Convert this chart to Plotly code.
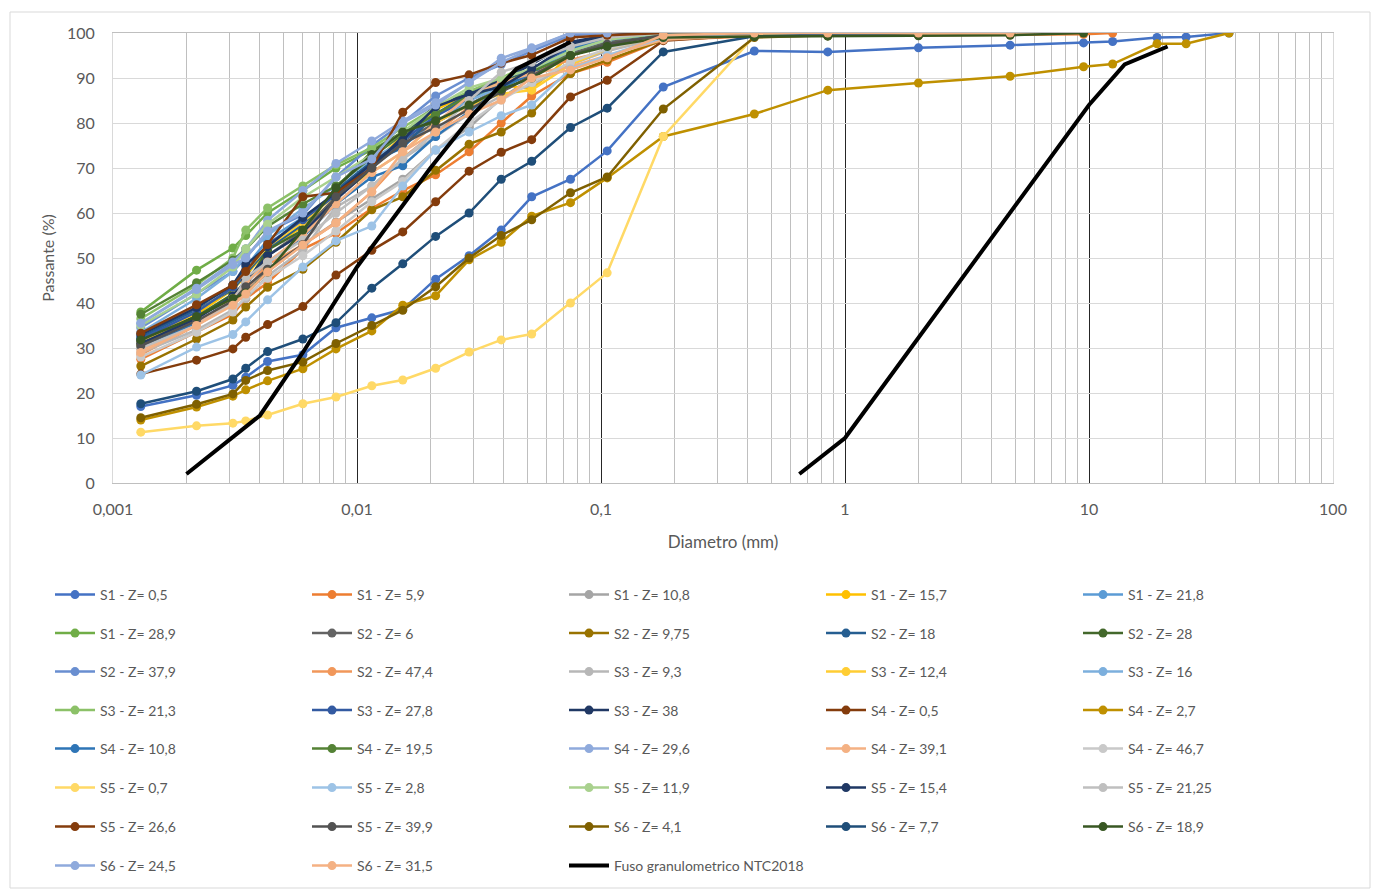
import plotly.graph_objects as go

# Particle diameters (mm): hydrometer readings then sieves
SIZES = [0.0013, 0.0022, 0.0031, 0.0035, 0.0043, 0.006, 0.0082, 0.0115, 0.0154, 0.021,
         0.0288, 0.039, 0.052, 0.075, 0.106, 0.18, 0.425, 0.85, 2.0, 4.75,
         9.5, 12.5, 19.0, 25.0, 37.5]

S1_Z0_5 = [17.0, 19.5, 21.7, 23.5, 27.0, 28.5, 34.5, 36.7, 38.6, 45.3, 50.5, 56.2, 63.6, 67.5, 73.8, 88.0, 96.0, 95.8, 96.7, 97.3, 97.8, 98.1, 99.0, 99.1, 100]
S1_Z5_9 = [27.5, 33.5, 37.5, 41.0, 44.5, 52.0, 55.5, 61.0, 65.0, 68.5, 73.6, 80.0, 86.0, 91.0, 93.5, 98.5, 99.3, 99.4, 99.5, 99.6, 99.7, 100]
S1_Z10_8 = [31.0, 36.0, 40.0, 43.0, 47.0, 53.0, 58.0, 63.0, 67.5, 74.0, 79.0, 85.5, 90.0, 95.0, 97.5, 99.5, 100]
S1_Z15_7 = [30.5, 37.5, 43.0, 46.0, 52.0, 57.0, 63.0, 71.0, 77.0, 83.0, 86.5, 88.5, 87.5, 95.0, 97.5, 99.5, 100]
S1_Z21_8 = [32.0, 39.0, 44.0, 48.0, 54.0, 59.0, 64.0, 70.5, 75.0, 80.0, 85.0, 88.5, 91.0, 96.0, 98.5, 99.5, 100]
S1_Z28_9 = [38.0, 47.3, 52.2, 55.0, 60.0, 65.0, 70.0, 74.0, 78.0, 82.0, 85.5, 88.5, 91.0, 96.0, 98.5, 99.6, 100]
S2_Z6 = [31.5, 37.0, 41.0, 44.0, 50.5, 56.0, 63.6, 70.0, 76.0, 80.0, 84.0, 88.0, 91.0, 95.5, 98.0, 99.5, 100]
S2_Z9_75 = [26.0, 32.0, 36.2, 39.1, 43.5, 47.5, 53.5, 60.7, 63.6, 69.5, 75.3, 78.0, 82.2, 91.0, 94.0, 98.5, 100]
S2_Z18 = [32.5, 38.5, 43.0, 46.5, 52.0, 57.5, 65.0, 71.5, 74.5, 82.0, 86.4, 88.5, 92.0, 97.0, 99.0, 99.7, 100]
S2_Z28 = [31.8, 37.0, 42.0, 44.0, 51.8, 56.2, 65.6, 73.6, 78.0, 80.2, 84.0, 87.0, 90.5, 95.1, 97.5, 99.0, 99.3, 99.4, 99.5, 100]
S2_Z37_9 = [34.5, 42.0, 47.0, 50.0, 55.8, 59.6, 68.0, 75.0, 80.0, 86.0, 90.0, 93.0, 96.0, 99.5, 100]
S2_Z47_4 = [28.5, 35.1, 40.0, 43.0, 48.5, 52.9, 57.8, 64.7, 72.2, 78.0, 83.5, 88.0, 91.5, 94.0, 96.0, 100]
S3_Z9_3 = [29.0, 34.0, 38.5, 41.0, 46.0, 51.8, 61.3, 66.0, 72.0, 77.0, 82.0, 86.0, 88.5, 93.0, 96.0, 99.0, 100]
S3_Z12_4 = [31.0, 38.0, 43.5, 47.0, 52.5, 58.0, 64.0, 69.0, 73.5, 80.0, 84.0, 86.5, 87.3, 93.0, 96.5, 99.5, 100]
S3_Z16 = [33.5, 41.0, 47.0, 50.5, 55.0, 61.0, 66.0, 72.0, 76.0, 82.0, 85.0, 88.0, 91.5, 96.0, 98.5, 100]
S3_Z21_3 = [36.5, 44.0, 50.0, 56.2, 61.1, 66.0, 70.7, 74.5, 79.0, 83.5, 87.0, 90.0, 93.3, 97.5, 99.0, 100]
S3_Z27_8 = [32.0, 38.0, 43.5, 47.0, 53.0, 58.5, 64.0, 71.0, 76.0, 81.5, 85.5, 89.0, 92.0, 97.0, 99.0, 100]
S3_Z38 = [31.0, 36.5, 41.5, 45.0, 50.5, 55.5, 63.0, 70.0, 77.0, 84.0, 86.4, 89.5, 93.0, 98.0, 99.5, 100]
S4_Z0_5 = [24.2, 27.3, 29.8, 32.4, 35.2, 39.2, 46.2, 51.7, 55.8, 62.5, 69.3, 73.5, 76.3, 85.8, 89.5, 98.3, 99.6, 100]
S4_Z2_7 = [14.0, 16.9, 19.3, 20.7, 22.7, 25.4, 29.8, 33.8, 39.5, 41.6, 49.6, 53.5, 59.3, 62.3, 67.8, 77.0, 82.0, 87.3, 88.9, 90.4, 92.5, 93.1, 97.6, 97.6, 100]
S4_Z10_8 = [30.0, 35.5, 41.0, 44.5, 49.0, 54.7, 62.0, 68.0, 70.5, 77.0, 82.5, 87.8, 91.0, 96.5, 98.5, 100]
S4_Z19_5 = [37.5, 44.5, 49.5, 52.0, 57.0, 62.0, 66.0, 72.4, 77.5, 82.0, 86.0, 89.0, 91.5, 95.0, 97.5, 99.5, 100]
S4_Z29_6 = [35.5, 43.3, 49.1, 52.0, 58.4, 65.0, 71.0, 76.0, 80.5, 84.5, 89.0, 94.4, 96.7, 100]
S4_Z39_1 = [29.6, 35.1, 41.0, 44.5, 49.1, 55.0, 62.0, 69.0, 73.6, 80.0, 86.0, 89.0, 91.0, 92.5, 95.0, 98.5, 99.5, 99.7, 99.8, 100]
S4_Z46_7 = [28.0, 33.5, 38.0, 41.5, 45.5, 50.5, 56.0, 62.5, 67.0, 74.0, 80.0, 85.1, 89.0, 93.5, 96.5, 99.5, 100]
S5_Z0_7 = [11.3, 12.7, 13.3, 13.8, 15.1, 17.6, 19.1, 21.6, 22.9, 25.5, 29.1, 31.8, 33.1, 40.0, 46.7, 77.0, 99.3, 100]
S5_Z2_8 = [24.0, 30.2, 33.0, 35.8, 40.7, 48.0, 53.8, 57.1, 66.0, 74.0, 78.0, 81.6, 84.0, 92.0, 95.0, 99.0, 100]
S5_Z11_9 = [35.0, 42.0, 48.0, 52.0, 57.5, 63.5, 68.0, 73.0, 78.0, 83.6, 87.8, 90.0, 92.0, 96.0, 98.5, 100]
S5_Z15_4 = [33.0, 39.0, 44.0, 48.5, 52.5, 59.0, 64.5, 71.0, 76.2, 83.6, 86.4, 88.0, 92.0, 97.5, 99.5, 100]
S5_Z21_25 = [30.0, 35.0, 40.0, 45.8, 49.0, 54.0, 60.0, 66.0, 72.0, 78.0, 85.0, 91.3, 93.5, 97.0, 99.0, 100]
S5_Z26_6 = [33.3, 39.6, 44.0, 47.0, 53.0, 63.6, 64.5, 70.0, 82.4, 89.0, 90.7, 93.3, 95.1, 99.0, 99.5, 100]
S5_Z39_9 = [30.5, 36.0, 40.5, 43.6, 47.5, 53.0, 63.6, 70.0, 75.5, 79.0, 83.0, 87.0, 90.5, 95.0, 97.5, 99.5, 100]
S6_Z4_1 = [14.5, 17.5, 19.8, 22.8, 25.0, 26.9, 31.0, 35.0, 38.4, 43.6, 50.0, 55.0, 58.5, 64.5, 68.0, 83.1, 99.0, 99.5, 100]
S6_Z7_7 = [17.6, 20.4, 23.1, 25.5, 29.2, 32.0, 35.6, 43.3, 48.7, 54.8, 60.0, 67.5, 71.5, 79.0, 83.3, 95.8, 99.3, 99.6, 100]
S6_Z18_9 = [31.8, 37.0, 41.0, 42.2, 46.9, 56.2, 65.6, 73.0, 78.0, 80.5, 84.0, 87.5, 90.0, 95.0, 97.0, 99.0, 99.2, 99.3, 99.4, 99.5, 100]
S6_Z24_5 = [35.5, 43.0, 48.5, 50.0, 56.0, 60.0, 68.0, 72.0, 80.0, 84.0, 89.0, 93.5, 96.5, 100, 100]
S6_Z31_5 = [29.0, 35.0, 39.5, 42.0, 46.9, 52.9, 57.8, 64.7, 73.6, 78.0, 82.0, 85.1, 90.0, 91.8, 94.5, 99.5, 100, 100, 100, 100]

# Fuso granulometrico NTC2018 (two branches)
FUSO_D = [0.002, 0.004, 0.006, 0.01, 0.02, 0.03, 0.045, 0.075, None, 0.65, 1.0, 10.0, 14.0, 21.0]
FUSO_P = [2, 15, 29, 48, 70, 82, 92, 98, None, 2, 10, 84, 93, 97]

NAMES = ["S1 - Z= 0,5", "S1 - Z= 5,9", "S1 - Z= 10,8", "S1 - Z= 15,7", "S1 - Z= 21,8",
         "S1 - Z= 28,9", "S2 - Z= 6", "S2 - Z= 9,75", "S2 - Z= 18", "S2 - Z= 28",
         "S2 - Z= 37,9", "S2 - Z= 47,4", "S3 - Z= 9,3", "S3 - Z= 12,4", "S3 - Z= 16",
         "S3 - Z= 21,3", "S3 - Z= 27,8", "S3 - Z= 38", "S4 - Z= 0,5", "S4 - Z= 2,7",
         "S4 - Z= 10,8", "S4 - Z= 19,5", "S4 - Z= 29,6", "S4 - Z= 39,1", "S4 - Z= 46,7",
         "S5 - Z= 0,7", "S5 - Z= 2,8", "S5 - Z= 11,9", "S5 - Z= 15,4", "S5 - Z= 21,25",
         "S5 - Z= 26,6", "S5 - Z= 39,9", "S6 - Z= 4,1", "S6 - Z= 7,7", "S6 - Z= 18,9",
         "S6 - Z= 24,5", "S6 - Z= 31,5"]
VALUES = [S1_Z0_5, S1_Z5_9, S1_Z10_8, S1_Z15_7, S1_Z21_8, S1_Z28_9, S2_Z6, S2_Z9_75,
          S2_Z18, S2_Z28, S2_Z37_9, S2_Z47_4, S3_Z9_3, S3_Z12_4, S3_Z16, S3_Z21_3,
          S3_Z27_8, S3_Z38, S4_Z0_5, S4_Z2_7, S4_Z10_8, S4_Z19_5, S4_Z29_6, S4_Z39_1,
          S4_Z46_7, S5_Z0_7, S5_Z2_8, S5_Z11_9, S5_Z15_4, S5_Z21_25, S5_Z26_6, S5_Z39_9,
          S6_Z4_1, S6_Z7_7, S6_Z18_9, S6_Z24_5, S6_Z31_5]
COLORS = ["#4472C4", "#ED7D31", "#A5A5A5", "#FFC000", "#5B9BD5",
          "#70AD47", "#636363", "#997300", "#255E91", "#43682B",
          "#698ED0", "#F1975A", "#B7B7B7", "#FFCD33", "#7CAFDD",
          "#8CC168", "#335AA1", "#203864", "#843C0C", "#BF9000",
          "#2E75B6", "#548235", "#8FAADC", "#F4B183", "#C9C9C9",
          "#FFD966", "#9DC3E6", "#A9D18E", "#1F3864", "#BFBFBF",
          "#843C0C", "#525252", "#7F6000", "#1F4E79", "#385723",
          "#8FAADC", "#F4B183"]

X_TICKS = [0.001, 0.01, 0.1, 1, 10, 100]
X_TICKTEXT = ["0,001", "0,01", "0,1", "1", "10", "100"]

FONT = "Lato, 'Open Sans', sans-serif"
TXT = "#595959"

fig = go.Figure()

def legend_id(i):
    k = i // 5 + 1
    return "legend" if k == 1 else "legend%d" % k

for i, (name, vals, col) in enumerate(zip(NAMES, VALUES, COLORS)):
    fig.add_trace(go.Scatter(
        x=SIZES[:len(vals)], y=vals, name=name, mode="lines+markers",
        line=dict(color=col, width=2.5), marker=dict(color=col, size=9),
        legend=legend_id(i)))

fig.add_trace(go.Scatter(
    x=FUSO_D, y=FUSO_P, name="Fuso granulometrico NTC2018", mode="lines",
    line=dict(color="#000000", width=4), legend=legend_id(len(NAMES))))

# plot area in pixels
L, T, W, H = 113, 33, 1220, 450
ROW_Y = [595, 633.5, 672, 710.5, 749, 788, 827, 866]
LEG_X = 50

legends = {}
for k, ypx in enumerate(ROW_Y, start=1):
    key = "legend" if k == 1 else "legend%d" % k
    legends[key] = dict(
        orientation="h", xref="paper", yref="paper",
        x=(LEG_X - L) / W, y=(T + H - ypx) / H, xanchor="left", yanchor="middle",
        itemwidth=40, entrywidth=202, entrywidthmode="pixels", bgcolor="rgba(0,0,0,0)",
        font=dict(family=FONT, size=14, color=TXT), traceorder="normal")

fig.update_layout(
    width=1376, height=890,
    margin=dict(l=L, r=1376 - L - W, t=T, b=890 - T - H, autoexpand=False),
    paper_bgcolor="white", plot_bgcolor="white",
    font=dict(family=FONT, color=TXT),
    showlegend=True,
    **legends,
    xaxis=dict(
        type="log", range=[-3, 2], tickmode="array", tickvals=X_TICKS, ticktext=X_TICKTEXT,
        showgrid=True, gridcolor="#262626", gridwidth=1,
        minor=dict(dtick="D1", showgrid=True, gridcolor="#bfbfbf", gridwidth=1),
        showline=True, linecolor="#bfbfbf", mirror=True, ticks="",
        ticklabelstandoff=12, tickfont=dict(size=16, color=TXT),
        title=dict(text="Diametro (mm)", font=dict(size=17, color=TXT), standoff=18),
        zeroline=False),
    yaxis=dict(
        range=[0, 100], dtick=10, showgrid=True, gridcolor="#d9d9d9", gridwidth=1,
        showline=True, linecolor="#d9d9d9", mirror=True, ticks="",
        ticklabelstandoff=14, tickfont=dict(size=16, color=TXT),
        title=dict(text="Passante (%)", font=dict(size=16, color=TXT), standoff=8),
        zeroline=False),
    shapes=[dict(type="rect", xref="paper", yref="paper",
                 x0=(10 - L) / W, x1=(1370 - L) / W,
                 y0=(T + H - 888) / H, y1=(T + H - 12) / H,
                 line=dict(color="#d9d9d9", width=1), layer="below")],
)

fig.write_html("out.html", config={"displayModeBar": False},
               post_script="document.body.style.margin='0';")
